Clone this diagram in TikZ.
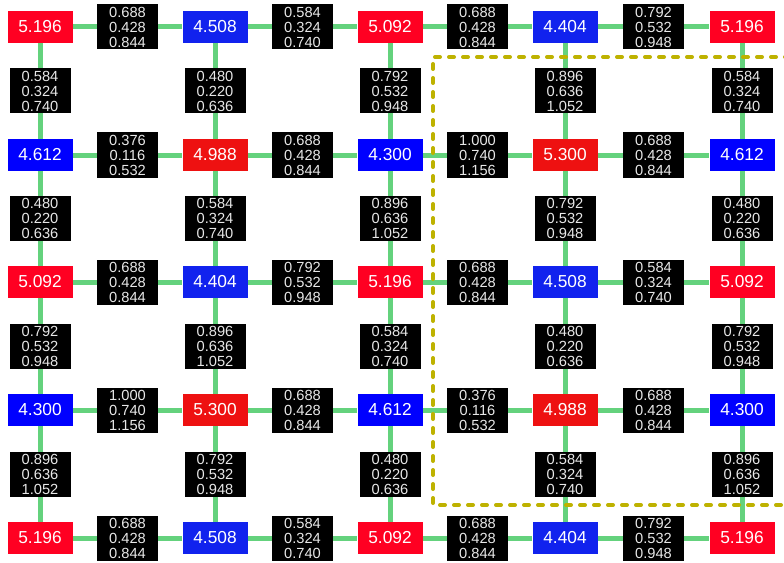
\documentclass[tikz,border=0pt]{standalone}
\usepackage{fontspec}
\setmainfont{Liberation Sans}
\definecolor{redA}{RGB}{255,0,34}
\definecolor{redB}{RGB}{238,17,17}
\definecolor{blueA}{RGB}{0,0,255}
\definecolor{blueB}{RGB}{17,34,238}
\definecolor{edgegreen}{RGB}{100,210,125}
\definecolor{labtxt}{RGB}{232,232,232}
\definecolor{dashcol}{RGB}{190,178,0}
\begin{document}
\begin{tikzpicture}[x=0.75pt,y=-0.75pt,
  vnode/.style={minimum width=48.75pt,minimum height=24pt,inner sep=0pt,text=white,font=\fontsize{13}{15}\selectfont},
  rA/.style={vnode,fill=redA},
  rB/.style={vnode,fill=redB},
  bA/.style={vnode,fill=blueA},
  bB/.style={vnode,fill=blueB},
  lab/.style={fill=black,text=labtxt,minimum width=45.75pt,minimum height=33.75pt,inner sep=0pt,align=center,font=\fontsize{11}{11.25}\selectfont},
  conn/.style={draw=edgegreen,line width=3.75pt},
  region/.style={draw=dashcol,line width=3pt,line cap=round,dash pattern=on 3.75pt off 6.75pt}]
\useasboundingbox (0,0) rectangle (784,563);
% nodes
\node[rA] (n00) at (40,27) {5.196};
\node[bB] (n01) at (215,27) {4.508};
\node[rA] (n02) at (390,27) {5.092};
\node[bB] (n03) at (565,27) {4.404};
\node[rA] (n04) at (742,27) {5.196};
\node[bA] (n10) at (40,155) {4.612};
\node[rB] (n11) at (215,155) {4.988};
\node[bA] (n12) at (390,155) {4.300};
\node[rB] (n13) at (565,155) {5.300};
\node[bA] (n14) at (742,155) {4.612};
\node[rA] (n20) at (40,282) {5.092};
\node[bB] (n21) at (215,282) {4.404};
\node[rA] (n22) at (390,282) {5.196};
\node[bB] (n23) at (565,282) {4.508};
\node[rA] (n24) at (742,282) {5.092};
\node[bA] (n30) at (40,410) {4.300};
\node[rB] (n31) at (215,410) {5.300};
\node[bA] (n32) at (390,410) {4.612};
\node[rB] (n33) at (565,410) {4.988};
\node[bA] (n34) at (742,410) {4.300};
\node[rA] (n40) at (40,538) {5.196};
\node[bB] (n41) at (215,538) {4.508};
\node[rA] (n42) at (390,538) {5.092};
\node[bB] (n43) at (565,538) {4.404};
\node[rA] (n44) at (742,538) {5.196};
% horizontal connectors
\draw[conn] (n00) -- node[lab] (h00) {0.688\\0.428\\0.844} (n01);
\draw[conn] (n01) -- node[lab] (h01) {0.584\\0.324\\0.740} (n02);
\draw[conn] (n02) -- node[lab] (h02) {0.688\\0.428\\0.844} (n03);
\draw[conn] (n03) -- node[lab] (h03) {0.792\\0.532\\0.948} (n04);
\draw[conn] (n10) -- node[lab] (h10) {0.376\\0.116\\0.532} (n11);
\draw[conn] (n11) -- node[lab] (h11) {0.688\\0.428\\0.844} (n12);
\draw[conn] (n12) -- node[lab] (h12) {1.000\\0.740\\1.156} (n13);
\draw[conn] (n13) -- node[lab] (h13) {0.688\\0.428\\0.844} (n14);
\draw[conn] (n20) -- node[lab] (h20) {0.688\\0.428\\0.844} (n21);
\draw[conn] (n21) -- node[lab] (h21) {0.792\\0.532\\0.948} (n22);
\draw[conn] (n22) -- node[lab] (h22) {0.688\\0.428\\0.844} (n23);
\draw[conn] (n23) -- node[lab] (h23) {0.584\\0.324\\0.740} (n24);
\draw[conn] (n30) -- node[lab] (h30) {1.000\\0.740\\1.156} (n31);
\draw[conn] (n31) -- node[lab] (h31) {0.688\\0.428\\0.844} (n32);
\draw[conn] (n32) -- node[lab] (h32) {0.376\\0.116\\0.532} (n33);
\draw[conn] (n33) -- node[lab] (h33) {0.688\\0.428\\0.844} (n34);
\draw[conn] (n40) -- node[lab] (h40) {0.688\\0.428\\0.844} (n41);
\draw[conn] (n41) -- node[lab] (h41) {0.584\\0.324\\0.740} (n42);
\draw[conn] (n42) -- node[lab] (h42) {0.688\\0.428\\0.844} (n43);
\draw[conn] (n43) -- node[lab] (h43) {0.792\\0.532\\0.948} (n44);
% vertical connectors
\draw[conn] (n00) -- node[lab] (v00) {0.584\\0.324\\0.740} (n10);
\draw[conn] (n01) -- node[lab] (v01) {0.480\\0.220\\0.636} (n11);
\draw[conn] (n02) -- node[lab] (v02) {0.792\\0.532\\0.948} (n12);
\draw[conn] (n03) -- node[lab] (v03) {0.896\\0.636\\1.052} (n13);
\draw[conn] (n04) -- node[lab] (v04) {0.584\\0.324\\0.740} (n14);
\draw[conn] (n10) -- node[lab] (v10) {0.480\\0.220\\0.636} (n20);
\draw[conn] (n11) -- node[lab] (v11) {0.584\\0.324\\0.740} (n21);
\draw[conn] (n12) -- node[lab] (v12) {0.896\\0.636\\1.052} (n22);
\draw[conn] (n13) -- node[lab] (v13) {0.792\\0.532\\0.948} (n23);
\draw[conn] (n14) -- node[lab] (v14) {0.480\\0.220\\0.636} (n24);
\draw[conn] (n20) -- node[lab] (v20) {0.792\\0.532\\0.948} (n30);
\draw[conn] (n21) -- node[lab] (v21) {0.896\\0.636\\1.052} (n31);
\draw[conn] (n22) -- node[lab] (v22) {0.584\\0.324\\0.740} (n32);
\draw[conn] (n23) -- node[lab] (v23) {0.480\\0.220\\0.636} (n33);
\draw[conn] (n24) -- node[lab] (v24) {0.792\\0.532\\0.948} (n34);
\draw[conn] (n30) -- node[lab] (v30) {0.896\\0.636\\1.052} (n40);
\draw[conn] (n31) -- node[lab] (v31) {0.792\\0.532\\0.948} (n41);
\draw[conn] (n32) -- node[lab] (v32) {0.480\\0.220\\0.636} (n42);
\draw[conn] (n33) -- node[lab] (v33) {0.584\\0.324\\0.740} (n43);
\draw[conn] (n34) -- node[lab] (v34) {0.896\\0.636\\1.052} (n44);
% dashed region
\begin{scope}
\clip (0,0) rectangle (784,563);
\draw[region] (790,57) -- (433,57) -- (433,505) -- (790,505);
\end{scope}
\end{tikzpicture}
\end{document}
